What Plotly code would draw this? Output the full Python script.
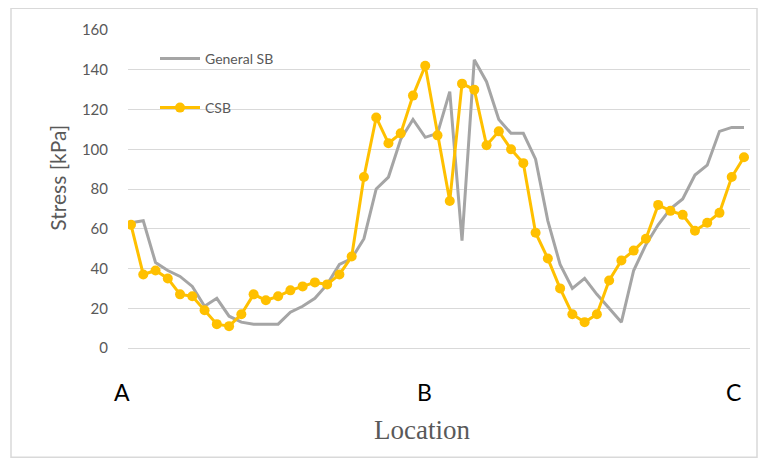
import plotly.graph_objects as go

# Data
location_index = list(range(51))
general_sb = [63, 64, 43, 39, 36, 31, 21, 25, 16, 13,
              12, 12, 12, 18, 21, 25, 32, 42, 45, 55,
              80, 86, 105, 115, 106, 108, 129, 54, 145, 134,
              115, 108, 108, 95, 64, 42, 30, 35, 27, 20,
              13, 39, 52, 62, 70, 75, 87, 92, 109, 111, 111]
csb = [62, 37, 39, 35, 27, 26, 19, 12, 11, 17,
       27, 24, 26, 29, 31, 33, 32, 37, 46, 86,
       116, 103, 108, 127, 142, 107, 74, 133, 130, 102,
       109, 100, 93, 58, 45, 30, 17, 13, 17, 34,
       44, 49, 55, 72, 69, 67, 59, 63, 68, 86, 96]
point_labels = ["A", "B", "C"]
point_px = [122, 424, 733]
y_ticks = [0, 20, 40, 60, 80, 100, 120, 140, 160]

GRAY = "#A5A5A5"
GOLD = "#FFC000"
TXT = "#595959"
FONT = "Lato, 'Open Sans', sans-serif"

# page body has an 8px default margin; work in window pixels and shift
OFF = 8
WIN_W, WIN_H = 768, 461
W, H = WIN_W - OFF, WIN_H - OFF

# plot area in window pixels
PX0, PX1 = 128, 750
PY_TOP, PY_BOT = 25, 348

L = PX0 - OFF
R = W - (PX1 - OFF)
T = PY_TOP - OFF
B = H - (PY_BOT - OFF)
pw = PX1 - PX0
ph = PY_BOT - PY_TOP

def px_x(p):
    return (p - PX0) / pw

def px_y(p):
    return (PY_BOT - p) / ph

fig = go.Figure()
fig.add_trace(go.Scatter(
    x=location_index, y=general_sb, name="General SB", mode="lines",
    line=dict(color=GRAY, width=3), legendgroup="g1"))
fig.add_trace(go.Scatter(
    x=location_index, y=csb, name="CSB", mode="lines+markers",
    line=dict(color=GOLD, width=3), marker=dict(color=GOLD, size=10),
    legendgroup="g2"))

annotations = []
for lab, p in zip(point_labels, point_px):
    annotations.append(dict(
        x=px_x(p), xref="paper", y=px_y(393), yref="paper", text=lab,
        showarrow=False, font=dict(family=FONT, size=23, color="#000000"),
        xanchor="center", yanchor="middle"))
annotations.append(dict(
    x=px_x(422), xref="paper", y=px_y(431), yref="paper", text="Location",
    showarrow=False, font=dict(family="'Liberation Serif', serif", size=27, color=TXT),
    xanchor="center", yanchor="middle"))
annotations.append(dict(
    x=px_x(58), xref="paper", y=px_y(175), yref="paper", text="Stress [kPa]",
    showarrow=False, textangle=-90,
    font=dict(family=FONT, size=21, color=TXT),
    xanchor="center", yanchor="middle"))

fig.update_layout(
    width=W, height=H,
    margin=dict(l=L, r=R, t=T, b=B),
    paper_bgcolor="white", plot_bgcolor="white",
    font=dict(family=FONT, color=TXT),
    showlegend=True,
    legend=dict(
        x=px_x(155), y=px_y(38), xanchor="left", yanchor="top",
        bgcolor="rgba(0,0,0,0)", font=dict(size=14, color=TXT, family=FONT),
        traceorder="grouped", tracegroupgap=28, itemwidth=40),
    xaxis=dict(range=[-0.245, 50.49], showgrid=False, zeroline=False,
               showline=False, showticklabels=False, ticks=""),
    yaxis=dict(range=[0, 160], tickvals=y_ticks, showgrid=True,
               gridcolor="#D9D9D9", gridwidth=1, zeroline=True,
               zerolinecolor="#D9D9D9", zerolinewidth=1, showline=False,
               ticks="", ticklabelstandoff=19,
               tickfont=dict(size=15, color=TXT, family=FONT)),
    annotations=annotations,
    shapes=[dict(type="rect", xref="paper", yref="paper",
                 x0=px_x(11), x1=px_x(757), y0=px_y(459), y1=px_y(3),
                 line=dict(color="#D9D9D9", width=1.5), layer="below")],
)

fig.write_html("out.html")
